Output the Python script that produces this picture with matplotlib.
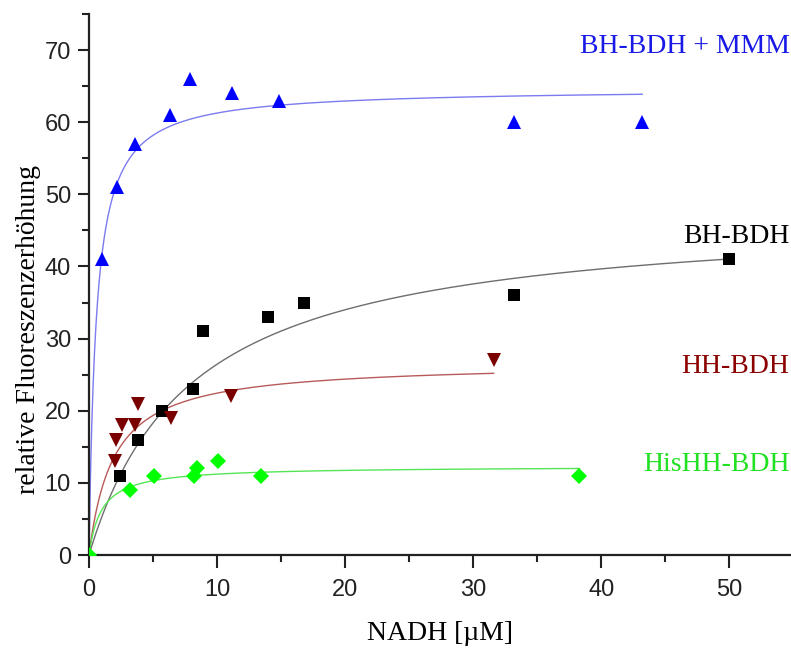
import numpy as np
import matplotlib
matplotlib.use("Agg")
import matplotlib.pyplot as plt
from matplotlib.ticker import MultipleLocator

# Measured fluorescence increase vs. NADH concentration
mmm_x = [1.0, 2.2, 3.6, 6.3, 7.9, 11.2, 14.8, 33.2, 43.2]
mmm_y = [41, 51, 57, 61, 66, 64, 63, 60, 60]

bh_x = [2.4, 3.8, 5.7, 8.1, 8.9, 14.0, 16.8, 33.2, 50.0]
bh_y = [11, 16, 20, 23, 31, 33, 35, 36, 41]

hh_x = [2.0, 2.1, 2.6, 3.6, 3.8, 6.4, 11.1, 31.6]
hh_y = [13, 16, 18, 18, 21, 19, 22, 27]

his_x = [0.0, 3.2, 5.1, 8.2, 8.4, 10.1, 13.4, 38.3]
his_y = [0, 9, 11, 11, 12, 13, 11, 11]

# Hyperbolic (Michaelis-Menten) fit parameters: (Vmax, Km, x_end)
mmm_fit = (64.7, 0.56, 43.2)
bh_fit = (47.6, 8.0, 50.0)
hh_fit = (26.7, 1.9, 31.6)
his_fit = (12.3, 0.97, 38.3)

labels = ["BH-BDH + MMM", "BH-BDH", "HH-BDH", "HisHH-BDH"]
label_y = [70.5, 44.1, 26.1, 12.5]

x_ticks = [0, 10, 20, 30, 40, 50]
y_ticks = [0, 10, 20, 30, 40, 50, 60, 70]

serif = ["Liberation Serif", "DejaVu Serif"]
sans = ["Liberation Sans", "DejaVu Sans"]

fig = plt.figure(figsize=(7.91, 6.5), dpi=100)
ax = fig.add_axes([89 / 791, 95 / 650, 1 - 89 / 791 - 0.001, (555 - 14) / 650])

series = [
    (mmm_x, mmm_y, mmm_fit, "^", "#0000ff", "#7b7bf0", 10.5, labels[0], "#1a1ae6"),
    (bh_x, bh_y, bh_fit, "s", "#000000", "#6e6e6e", 8.0, labels[1], "#000000"),
    (hh_x, hh_y, hh_fit, "v", "#7a0000", "#b85a5a", 10.5, labels[2], "#8b0000"),
    (his_x, his_y, his_fit, "D", "#00ff00", "#55e655", 8.5, labels[3], "#22e022"),
]

for (xs, ys, (vmax, km, xend), mk, mc, lc, ms, lab, tc), ly in zip(series, label_y):
    xf = np.linspace(0, xend, 400)
    ax.plot(xf, vmax * xf / (km + xf), color=lc, lw=1.0, zorder=2)
    ax.plot(xs, ys, linestyle="none", marker=mk, color=mc, markersize=ms,
            markeredgewidth=0, zorder=3)
    ax.text(54.7, ly, lab, color=tc, ha="right", va="center",
            family=serif, fontsize=20)

ax.set_xlim(0, (791 - 89) / 12.82)
ax.set_ylim(0, 75)
ax.set_xticks(x_ticks)
ax.set_yticks(y_ticks)
ax.xaxis.set_minor_locator(MultipleLocator(5))
ax.yaxis.set_minor_locator(MultipleLocator(5))

for s in ("top", "right"):
    ax.spines[s].set_visible(False)
for s in ("left", "bottom"):
    ax.spines[s].set_linewidth(1.6)
    ax.spines[s].set_color("#222222")

ax.tick_params(which="major", direction="out", length=8, width=1.5,
               color="#222222", pad=5, labelsize=17)
ax.tick_params(axis="x", which="major", length=9, pad=8)
ax.tick_params(which="minor", direction="out", length=5, width=1.5,
               color="#222222")
for t in ax.get_xticklabels() + ax.get_yticklabels():
    t.set_family(sans)
    t.set_color("#222222")

fig.text(440 / 791, 1 - 634 / 650, "NADH [\u00b5M]", family=serif,
         fontsize=20, ha="center", va="center")
fig.text(29 / 791, 1 - 330 / 650, "relative Fluoreszenzerh\u00f6hung",
         family=serif, fontsize=20, rotation=90, ha="center", va="center")

fig.savefig("out.png", dpi=100)
